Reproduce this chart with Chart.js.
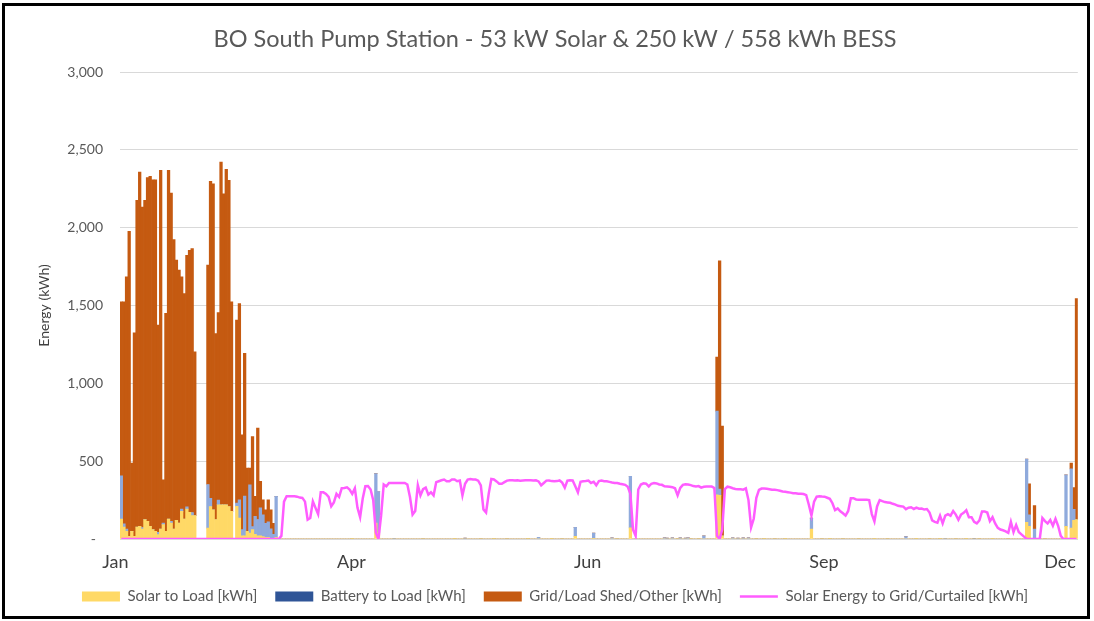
<!DOCTYPE html>
<html>
<head>
<meta charset="utf-8">
<title>BO South Pump Station</title>
<script src="https://cdn.jsdelivr.net/npm/chart.js@4.4.0/dist/chart.umd.min.js"></script>
<style>
    html, body { margin: 0; padding: 0; background: #fff; }
    #wrap { position: relative; width: 1094px; height: 621px; }
    #frame {
        position: absolute; left: 2px; top: 3px; width: 1088px; height: 616px;
        border: 3px solid #000; box-sizing: border-box; pointer-events: none;
    }
</style>
</head>
<body>
<div id="wrap">
    <canvas id="energyChart" width="1094" height="621"></canvas>
    <div id="frame"></div>
</div>
<script>
// daily values, day 0 = 1 Jan ... day 364 = 31 Dec (20 days per row)
const solarToLoad = [
    128, 77, 49, 17, 49, 17, 77, 81, 64, 124, 113, 81, 60, 49, 28, 64, 92, 49, 128, 103,
    64, 120, 103, 177, 128, 192, 171, 150, 150, 0, 0, 0, 0, 70, 209, 188, 124, 220, 220, 220,
    220, 209, 177, 0, 210, 135, 20, 20, 49, 38, 60, 30, 20, 20, 15, 10, 10, 5, 0, 10,
    0, 0, 0, 0, 0, 0, 0, 0, 0, 0, 0, 0, 0, 0, 0, 0, 0, 0, 0, 0,
    0, 0, 0, 0, 0, 0, 0, 0, 4, 0, 0, 0, 0, 0, 0, 0, 0, 103, 40, 0,
    0, 0, 0, 0, 0, 0, 0, 0, 0, 0, 0, 0, 0, 0, 0, 3, 0, 0, 0, 0,
    0, 0, 0, 0, 0, 0, 0, 4, 0, 0, 0, 0, 0, 0, 0, 0, 0, 3, 0, 0,
    0, 0, 4, 0, 0, 0, 0, 3, 0, 0, 0, 0, 0, 0, 0, 4, 0, 0, 0, 0,
    0, 0, 0, 0, 4, 0, 0, 0, 3, 0, 0, 0, 0, 17, 0, 0, 0, 0, 0, 0,
    5, 0, 0, 0, 0, 0, 0, 0, 0, 3, 0, 0, 0, 0, 71, 0, 0, 0, 0, 0,
    0, 0, 0, 0, 0, 0, 0, 0, 0, 0, 0, 0, 3, 0, 0, 0, 0, 3, 0, 0,
    3, 0, 0, 0, 0, 0, 0, 284, 280, 20, 0, 0, 0, 0, 0, 0, 0, 0, 0, 0,
    0, 0, 3, 0, 0, 4, 0, 0, 0, 3, 0, 0, 0, 4, 0, 0, 0, 0, 0, 0,
    0, 0, 0, 64, 0, 0, 0, 3, 0, 0, 4, 0, 0, 0, 0, 3, 0, 0, 0, 0,
    0, 3, 0, 0, 0, 0, 0, 4, 0, 0, 0, 0, 3, 0, 0, 0, 0, 0, 0, 0,
    0, 0, 0, 4, 0, 0, 0, 0, 3, 0, 0, 0, 4, 0, 0, 0, 0, 0, 3, 0,
    0, 0, 4, 0, 0, 0, 0, 3, 0, 0, 0, 0, 4, 0, 0, 0, 0, 0, 3, 0,
    0, 0, 0, 0, 0, 107, 81, 0, 0, 0, 0, 0, 3, 0, 0, 0, 0, 0, 0, 0,
    81, 0, 70, 120, 124
];

const batteryToLoad = [
    278, 20, 15, 0, 0, 0, 0, 0, 10, 0, 0, 0, 0, 0, 15, 0, 10, 0, 0, 10,
    0, 0, 0, 15, 0, 15, 0, 20, 0, 0, 0, 0, 0, 280, 53, 0, 0, 30, 0, 0,
    0, 0, 0, 0, 20, 117, 40, 256, 0, 310, 20, 115, 105, 180, 140, 90, 100, 60, 30, 264,
    0, 0, 0, 0, 0, 0, 0, 0, 0, 0, 0, 0, 0, 0, 0, 0, 0, 0, 0, 0,
    0, 0, 0, 0, 0, 0, 0, 0, 0, 0, 0, 0, 0, 0, 0, 0, 0, 317, 265, 0,
    0, 0, 0, 0, 5, 0, 0, 0, 0, 0, 0, 0, 0, 0, 0, 0, 0, 0, 0, 0,
    0, 0, 0, 0, 0, 0, 0, 0, 0, 0, 0, 6, 0, 0, 0, 0, 0, 0, 0, 0,
    0, 0, 0, 0, 0, 0, 0, 0, 0, 0, 0, 0, 0, 0, 0, 0, 0, 0, 0, 10,
    0, 0, 0, 0, 0, 0, 0, 0, 0, 0, 0, 0, 0, 58, 0, 0, 0, 0, 0, 0,
    33, 0, 0, 0, 0, 0, 0, 8, 0, 0, 0, 0, 0, 0, 332, 0, 0, 0, 0, 0,
    0, 0, 0, 0, 0, 0, 0, 8, 6, 0, 8, 0, 0, 7, 0, 6, 8, 0, 0, 0,
    0, 0, 20, 0, 0, 0, 0, 537, 40, 0, 0, 0, 0, 8, 0, 6, 0, 7, 0, 8,
    0, 0, 0, 0, 0, 0, 0, 0, 0, 0, 0, 0, 0, 0, 0, 0, 0, 0, 0, 0,
    0, 0, 0, 70, 0, 0, 0, 0, 0, 0, 0, 0, 0, 0, 0, 0, 0, 0, 0, 0,
    0, 0, 0, 0, 0, 0, 0, 0, 0, 0, 0, 0, 0, 0, 0, 0, 0, 0, 0, 15,
    0, 0, 0, 0, 0, 0, 0, 0, 0, 0, 0, 0, 0, 0, 5, 0, 0, 0, 0, 0,
    0, 0, 0, 0, 0, 4, 0, 0, 0, 0, 0, 0, 0, 0, 0, 0, 0, 0, 0, 0,
    0, 0, 0, 0, 0, 406, 75, 0, 64, 0, 0, 0, 0, 0, 0, 0, 0, 0, 0, 0,
    331, 0, 380, 70, 0
];

const gridOther = [
    1118, 1427, 1620, 1960, 438, 1308, 2098, 2276, 2059, 2051, 2208, 2248, 2248, 2259, 1331, 2304, 278, 1400, 2240, 2109,
    1859, 1671, 1624, 1492, 1449, 1616, 1684, 1696, 1053, 0, 0, 0, 0, 1409, 2035, 2094, 1196, 1205, 2201, 1998,
    2154, 2095, 1347, 0, 1176, 1261, 609, 916, 406, 107, 578, 129, 587, 170, 97, 88, 142, 123, 70, 0,
    0, 0, 0, 0, 0, 0, 0, 0, 0, 0, 0, 0, 0, 0, 0, 0, 0, 0, 0, 0,
    0, 0, 0, 0, 0, 0, 0, 0, 0, 0, 0, 0, 0, 0, 0, 0, 0, 0, 0, 0,
    0, 0, 0, 0, 0, 0, 0, 0, 0, 0, 0, 0, 0, 0, 0, 0, 0, 0, 0, 0,
    0, 0, 0, 0, 0, 0, 0, 0, 0, 0, 0, 0, 0, 0, 0, 0, 0, 0, 0, 0,
    0, 0, 0, 0, 0, 0, 0, 0, 0, 0, 0, 0, 0, 0, 0, 0, 0, 0, 0, 0,
    0, 0, 0, 0, 0, 0, 0, 0, 0, 0, 0, 0, 0, 0, 0, 0, 0, 0, 0, 0,
    0, 0, 0, 0, 0, 0, 0, 0, 0, 0, 0, 0, 0, 0, 0, 0, 0, 0, 0, 0,
    0, 0, 0, 0, 0, 0, 0, 0, 0, 0, 0, 0, 0, 0, 0, 0, 0, 0, 0, 0,
    0, 0, 0, 0, 0, 0, 0, 348, 1467, 705, 0, 0, 0, 0, 0, 0, 0, 0, 0, 0,
    0, 0, 0, 0, 0, 0, 0, 0, 0, 0, 0, 0, 0, 0, 0, 0, 0, 0, 0, 0,
    0, 0, 0, 0, 0, 0, 0, 0, 0, 0, 0, 0, 0, 0, 0, 0, 0, 0, 0, 0,
    0, 0, 0, 0, 0, 0, 0, 0, 0, 0, 0, 0, 0, 0, 0, 0, 0, 0, 0, 0,
    0, 0, 0, 0, 0, 0, 0, 0, 0, 0, 0, 0, 0, 0, 0, 0, 0, 0, 0, 0,
    0, 0, 0, 0, 0, 0, 0, 0, 0, 0, 0, 0, 0, 0, 0, 0, 0, 0, 0, 0,
    0, 0, 0, 0, 0, 0, 199, 0, 150, 0, 0, 0, 0, 0, 0, 0, 0, 0, 0, 0,
    0, 0, 37, 140, 1421
];

const solarToGrid = [
    0, 0, 0, 0, 0, 0, 0, 0, 0, 0, 0, 0, 0, 0, 0, 0, 0, 0, 0, 0,
    0, 0, 0, 0, 0, 0, 0, 0, 0, 0, 0, 0, 0, 0, 0, 0, 0, 0, 0, 0,
    0, 0, 0, 0, 0, 0, 0, 0, 0, 0, 0, 0, 0, 0, 0, 0, 0, 0, 0, 0,
    0, 20, 240, 275, 275, 275, 275, 272, 266, 264, 240, 124, 135, 242, 200, 160, 300, 300, 290, 270,
    210, 235, 290, 270, 326, 328, 332, 318, 290, 325, 200, 140, 260, 339, 340, 318, 250, 40, 0, 150,
    350, 339, 360, 360, 360, 360, 360, 360, 360, 350, 270, 157, 180, 345, 280, 320, 330, 285, 300, 280,
    365, 371, 377, 382, 371, 371, 382, 382, 371, 375, 280, 355, 382, 386, 382, 382, 375, 345, 190, 170,
    290, 385, 382, 370, 355, 355, 365, 375, 377, 378, 376, 377, 375, 376, 377, 378, 377, 376, 377, 370,
    345, 360, 375, 376, 372, 371, 372, 376, 362, 330, 375, 377, 376, 339, 300, 368, 371, 373, 376, 360,
    368, 345, 372, 375, 371, 371, 367, 363, 360, 360, 355, 352, 348, 336, 290, 60, 20, 318, 350, 358,
    355, 338, 355, 360, 357, 350, 348, 338, 337, 335, 333, 326, 280, 328, 348, 352, 350, 346, 340, 337,
    340, 330, 335, 337, 337, 337, 328, 20, 0, 60, 320, 336, 332, 326, 321, 320, 319, 317, 325, 250,
    75, 130, 265, 315, 324, 325, 323, 320, 317, 316, 314, 310, 305, 304, 301, 298, 294, 294, 291, 290,
    289, 282, 220, 150, 240, 272, 275, 273, 272, 265, 258, 230, 185, 196, 178, 165, 150, 180, 262, 262,
    254, 252, 252, 252, 252, 250, 160, 113, 209, 250, 243, 237, 235, 233, 226, 221, 213, 211, 208, 192,
    201, 204, 193, 202, 195, 196, 189, 192, 170, 120, 110, 105, 150, 100, 150, 160, 150, 180, 157, 124,
    157, 168, 185, 140, 140, 110, 100, 120, 177, 177, 170, 115, 140, 100, 72, 61, 56, 49, 40, 110,
    45, 90, 45, 30, 15, 0, 0, 0, 0, 0, 0, 135, 115, 100, 122, 85, 130, 85, 20, 0,
    0, 0, 0, 0, 0
];

const tickDays = [0, 90, 180, 270, 360];
const tickLabels = ['Jan', 'Apr', 'Jun', 'Sep', 'Dec'];
const yTicks = [0, 500, 1000, 1500, 2000, 2500, 3000];

const days = solarToLoad.map((v, i) => i);

Chart.defaults.font.family = 'Lato';
Chart.defaults.color = '#595959';

const ctx = document.getElementById('energyChart').getContext('2d');

new Chart(ctx, {
    type: 'bar',
    data: {
        labels: days,
        datasets: [{
            label: 'Solar to Load [kWh]',
            data: solarToLoad,
            backgroundColor: '#ffd966',
            borderWidth: 0,
            pointStyle: 'rect',
            barPercentage: 1,
            categoryPercentage: 1
        }, {
            label: 'Battery to Load [kWh]',
            data: batteryToLoad,
            backgroundColor: '#8faadc',
            borderWidth: 0,
            pointStyle: 'rect',
            barPercentage: 1,
            categoryPercentage: 1
        }, {
            label: 'Grid/Load Shed/Other [kWh]',
            data: gridOther,
            backgroundColor: '#c55a11',
            borderWidth: 0,
            pointStyle: 'rect',
            barPercentage: 1,
            categoryPercentage: 1
        }, {
            type: 'line',
            label: 'Solar Energy to Grid/Curtailed [kWh]',
            data: solarToGrid,
            stack: 'grid',
            order: -1, // draw the line over the bars
            borderColor: '#ff5cff',
            backgroundColor: '#ff5cff',
            borderWidth: 2.5,
            pointRadius: 0,
            pointStyle: 'line',
            tension: 0
        }]
    },
    options: {
        responsive: false,
        animation: false,
        layout: {
            padding: { left: 30, right: 14, top: 0, bottom: 7 }
        },
        plugins: {
            title: {
                display: true,
                text: 'BO South Pump Station - 53 kW Solar & 250 kW / 558 kWh BESS',
                color: '#595959',
                font: { size: 23.5, weight: 'normal' },
                padding: { top: 25, bottom: 18.8 }
            },
            legend: {
                position: 'bottom',
                labels: {
                    usePointStyle: true,
                    pointStyleWidth: 38,
                    boxHeight: 10,
                    padding: 18,
                    color: '#595959',
                    font: { size: 15 },
                    sort: (a, b) => a.datasetIndex - b.datasetIndex,
                    generateLabels: function (chart) {
                        const items = Chart.defaults.plugins.legend.labels.generateLabels(chart);
                        items.forEach(item => {
                            if (item.datasetIndex === 1) item.fillStyle = '#2f5597';
                        });
                        return items;
                    }
                }
            },
            tooltip: { enabled: false }
        },
        scales: {
            x: {
                stacked: true,
                grid: { display: false, drawTicks: false },
                border: { display: true, color: '#d9d9d9' },
                afterBuildTicks: axis => { axis.ticks = tickDays.map(v => ({ value: v })); },
                afterFit: axis => { axis.height = 32; },
                ticks: {
                    autoSkip: false,
                    maxRotation: 0,
                    padding: 12,
                    labelOffset: -6,
                    color: '#404040',
                    font: { size: 18 },
                    callback: v => tickLabels[tickDays.indexOf(v)]
                }
            },
            y: {
                stacked: true,
                min: 0,
                max: 3000,
                afterBuildTicks: axis => { axis.ticks = yTicks.map(v => ({ value: v })); },
                afterFit: axis => { axis.width = 90; },
                grid: { color: '#d9d9d9', drawTicks: false },
                border: { display: false },
                ticks: {
                    padding: 17,
                    color: '#595959',
                    font: { size: 14 },
                    // accounting style: zero shows as a dash
                    callback: v => (v === 0 ? '-  ' : v.toLocaleString('en-US'))
                },
                title: {
                    display: true,
                    text: 'Energy (kWh)',
                    color: '#404040',
                    font: { size: 14 },
                    padding: { top: 6, bottom: 0 }
                }
            }
        }
    }
});
</script>
</body>
</html>
